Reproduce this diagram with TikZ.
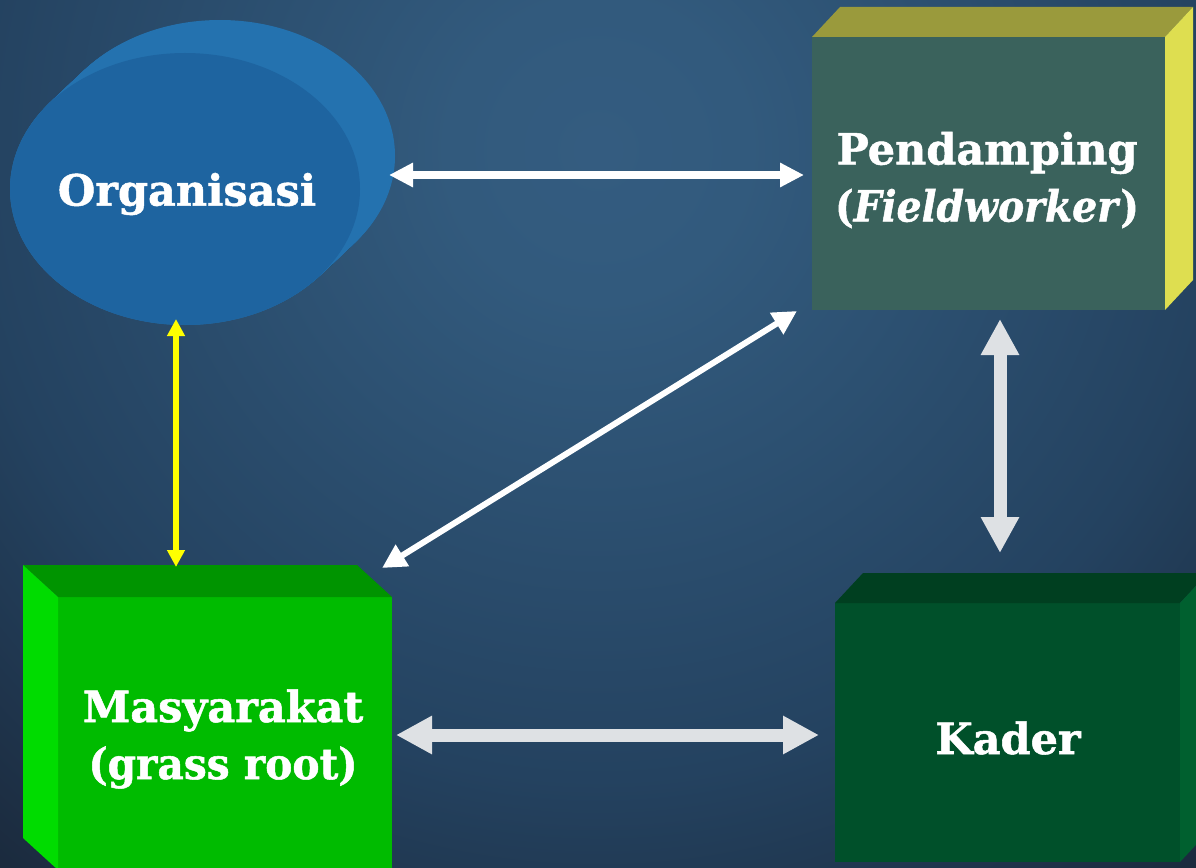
\documentclass[tikz,border=0pt]{standalone}
\usepackage{fontspec}
\setmainfont{DejaVu Serif}[BoldFeatures={FakeBold=1.2},BoldItalicFeatures={FakeBold=1.2}]
\usetikzlibrary{arrows.meta,shapes.geometric}
\definecolor{orgfront}{RGB}{30,100,160}
\definecolor{orgside}{RGB}{36,114,175}
\definecolor{pfront}{RGB}{58,98,92}
\definecolor{ptop}{RGB}{154,154,60}
\definecolor{pside}{RGB}{222,222,80}
\definecolor{mfront}{RGB}{0,187,0}
\definecolor{mtop}{RGB}{0,148,0}
\definecolor{mside}{RGB}{0,220,0}
\definecolor{kfront}{RGB}{0,80,42}
\definecolor{ktop}{RGB}{0,63,32}
\definecolor{kside}{RGB}{0,96,47}
\definecolor{lightarrow}{RGB}{222,225,228}
\definecolor{yarrow}{RGB}{255,255,0}
\pgfdeclareradialshading{vign}{\pgfpoint{0bp}{0bp}}{%
  rgb(0bp)=(0.204,0.361,0.502);
  rgb(5bp)=(0.196,0.353,0.490);
  rgb(21bp)=(0.141,0.259,0.376);
  rgb(30bp)=(0.110,0.176,0.255);
  rgb(36bp)=(0.078,0.125,0.180);
  rgb(50bp)=(0.078,0.125,0.180)}
\begin{document}
\begin{tikzpicture}[x=1pt,y=-1pt,
  lbl/.style={text=white,font=\bfseries\fontsize{43}{57}\selectfont,align=center},
  face/.style={inner sep=0pt,outer sep=0pt,draw=none},
  whitearrow/.style={draw=white,line width=8pt,{Triangle[length=24pt,width=23pt]}-{Triangle[length=24pt,width=23pt]}},
  diagarrow/.style={draw=white,line width=6pt,{Triangle[length=24pt,width=24pt]}-{Triangle[length=24pt,width=24pt]}},
  yellowarrow/.style={draw=yarrow,line width=6pt,{Triangle[length=17pt,width=17pt]}-{Triangle[length=17pt,width=17pt]}},
  greyarrow/.style={draw=lightarrow,line width=13pt,{Triangle[length=36pt,width=36pt]}-{Triangle[length=36pt,width=36pt]}}]
\useasboundingbox (0,0) rectangle (1196,867);
\clip (0,0) rectangle (1196,867);
\fill[black!80!blue] (0,0) rectangle (1196,867);
\shade[shading=vign] (-152,-600) rectangle (1348,900);

% Organisasi (extruded ellipse)
\foreach \t in {0,1,...,40}
  \fill[orgside] ({185+35*\t/40},{189-33*\t/40}) ellipse [x radius=175, y radius=136];
\node[face,ellipse,fill=orgfront,minimum width=350pt,minimum height=272pt] (org) at (185,189) {};
\node[lbl] (orgt) at (187,194) {Organisasi};

% Pendamping box
\node[face,fill=pfront,minimum width=353pt,minimum height=273pt] (pend) at (988.5,173.5) {};
\fill[ptop] (pend.north west) -- ++(28,-30) -- ++(353,0) -- (pend.north east) -- cycle;
\fill[pside] (pend.north east) -- ++(28,-30) -- ++(0,273) -- (pend.south east) -- cycle;
\node[lbl] (pendt) at (987,180) {Pendamping\\\scalebox{0.915}[1]{(\textit{Fieldworker})}};

% Masyarakat box
\node[face,fill=mfront,minimum width=334pt,minimum height=273pt] (masy) at (225,733.5) {};
\fill[mtop] (masy.north west) -- ++(-35,-32) -- ++(334,0) -- (masy.north east) -- cycle;
\fill[mside] (masy.north west) -- ++(-35,-32) -- ++(0,273) -- (masy.south west) -- cycle;
\node[lbl] (masyt) at (223,739) {Masyarakat\\\scalebox{0.946}[1]{(grass root)}};

% Kader box
\node[face,fill=kfront,minimum width=345pt,minimum height=259pt] (kad) at (1007.5,732.5) {};
\fill[ktop] (kad.north west) -- ++(28,-30) -- ++(345,0) -- (kad.north east) -- cycle;
\fill[kside] (kad.north east) -- ++(28,-30) -- ++(0,259) -- (kad.south east) -- cycle;
\node[lbl] (kadt) at (1008,738) {Kader};

% arrow end points
\coordinate (a1s) at (389,175);
\coordinate (a1e) at (804,175);
\coordinate (a2s) at (176,319);
\coordinate (a2e) at (176,567);
\coordinate (a3s) at (382,568);
\coordinate (a3e) at (797,311);
\coordinate (a4s) at (1000,319);
\coordinate (a4e) at (1000,553);
\coordinate (a5s) at (396,735);
\coordinate (a5e) at (819,735);

\draw[whitearrow] (a1s) -- (a1e);
\draw[yellowarrow] (a2s) -- (a2e);
\draw[diagarrow] (a3s) -- (a3e);
\draw[greyarrow] (a4s) -- (a4e);
\draw[greyarrow] (a5s) -- (a5e);
\end{tikzpicture}
\end{document}
